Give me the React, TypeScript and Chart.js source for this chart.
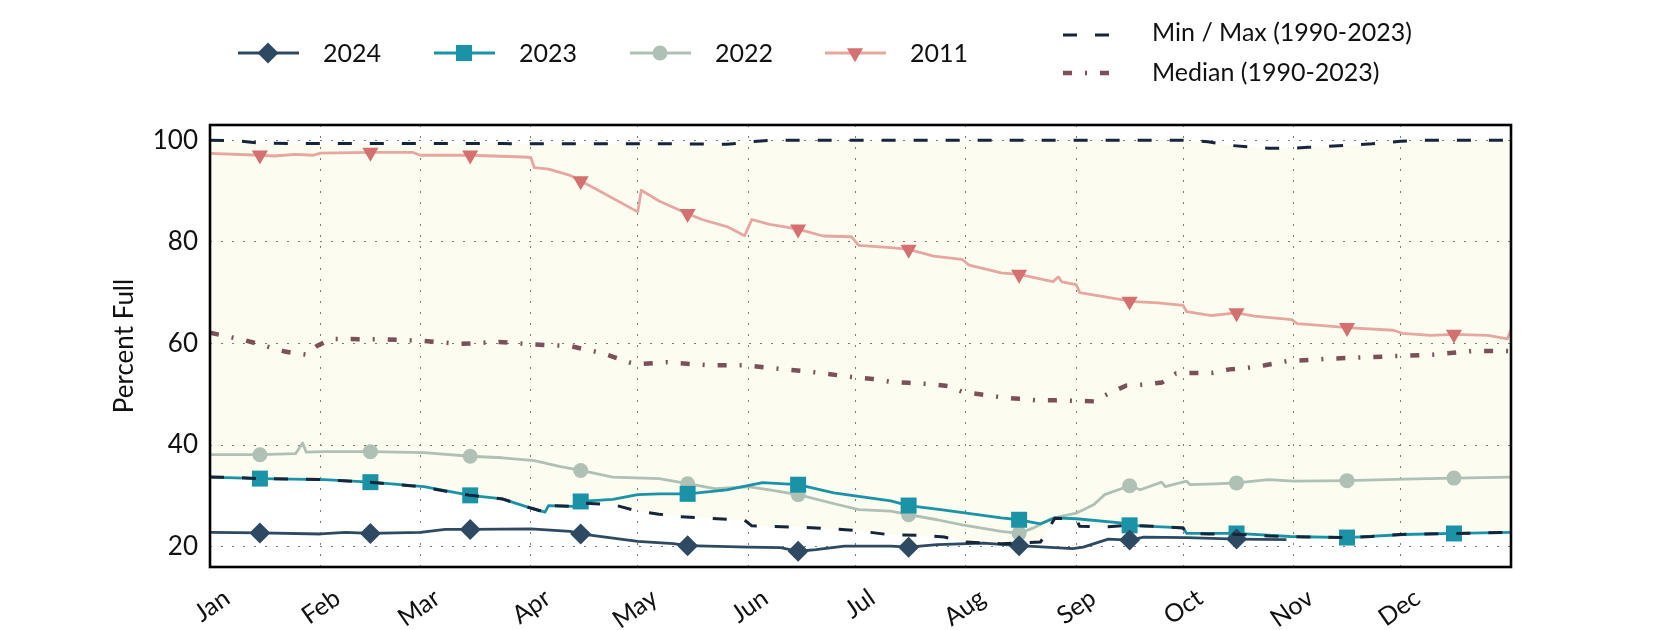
import React, { useEffect, useRef } from 'react';
import { Chart, registerables } from 'chart.js';
import { drawPoint } from 'chart.js/helpers';

Chart.register(...registerables);

// ---------- data ----------
const MONTH_LABELS = ['Jan', 'Feb', 'Mar', 'Apr', 'May', 'Jun', 'Jul', 'Aug', 'Sep', 'Oct', 'Nov', 'Dec'];
const MONTH_DAYS = [0, 31, 59, 90, 120, 151, 181, 212, 243, 273, 304, 334];
const Y_TICKS = [20, 40, 60, 80, 100];
const MARKER_DAYS = [14, 45, 73, 104, 134, 165, 196, 227, 258, 288, 319, 349];

const DAYS_2024 = [0, 14, 31, 38, 45, 59, 66, 73, 90, 101, 104, 112, 120, 130, 134, 151, 160, 165, 170, 178, 191, 196, 204, 217, 227, 242, 245, 252, 258, 262, 274, 288, 302];
const PCT_2024 = [22.8, 22.7, 22.5, 22.8, 22.6, 22.8, 23.4, 23.4, 23.5, 23.0, 22.5, 21.8, 21.05, 20.6, 20.2, 19.9, 19.8, 19.1, 19.4, 20.1, 20.1, 19.9, 20.4, 20.7, 20.2, 19.6, 19.9, 21.5, 21.3, 21.9, 21.8, 21.5, 21.4];

const DAYS_2023 = [0, 14, 32, 45, 60, 73, 82, 90, 94, 95, 102, 104, 113, 120, 126, 134, 145, 155, 165, 175, 191, 196, 205, 222, 227, 233, 237, 243, 257, 258, 273, 274, 288, 303, 319, 335, 349, 365];
const PCT_2023 = [33.7, 33.4, 33.2, 32.7, 31.8, 30.1, 29.4, 27.6, 26.8, 28.1, 27.95, 28.9, 29.3, 30.25, 30.4, 30.4, 31.2, 32.6, 32.2, 30.6, 29.0, 28.1, 27.3, 25.65, 25.3, 24.5, 25.65, 25.5, 24.6, 24.2, 23.7, 22.6, 22.6, 22.0, 21.8, 22.4, 22.6, 22.8];

const DAYS_2022 = [0, 14, 24, 26, 27, 32, 45, 60, 73, 82, 91, 98, 104, 113, 126, 134, 142, 151, 157, 165, 176, 182, 191, 196, 204, 211, 222, 227, 231, 236, 243, 248, 251, 258, 261, 267, 268, 274, 275, 282, 288, 297, 304, 319, 335, 349, 365];
const PCT_2022 = [38.1, 38.1, 38.3, 40.4, 38.6, 38.7, 38.7, 38.5, 37.8, 37.5, 36.95, 35.8, 35.0, 33.7, 33.4, 32.4, 31.4, 31.8, 31.2, 30.25, 28.3, 27.3, 27.0, 26.3, 25.3, 24.3, 23.0, 22.6, 23.7, 25.5, 26.6, 28.3, 30.25, 32.0, 31.2, 32.7, 31.8, 32.9, 32.2, 32.35, 32.55, 33.2, 32.9, 33.0, 33.3, 33.5, 33.7];

const DAYS_2011 = [0, 14, 18, 24, 29, 31, 45, 57, 59, 73, 88, 90, 91, 95, 101, 104, 108, 120, 121, 126, 134, 138, 145, 150, 152, 157, 165, 172, 180, 182, 191, 196, 203, 211, 213, 222, 227, 236.5, 238, 239, 243, 244, 257, 258, 266, 273, 274, 281, 288, 293, 303.5, 305, 314, 319, 332, 334.5, 342.5, 349, 358.5, 364, 365];
const PCT_2011 = [97.4, 97.05, 96.9, 97.2, 97.05, 97.45, 97.6, 97.6, 97.05, 97.05, 96.7, 96.6, 94.6, 94.3, 93.1, 92.0, 90.5, 85.9, 90.15, 88.05, 85.55, 84.4, 83.0, 81.2, 84.4, 83.45, 82.5, 81.15, 81.0, 79.3, 78.85, 78.5, 77.2, 76.55, 75.4, 73.9, 73.6, 72.15, 73.1, 72.1, 71.6, 70.0, 68.5, 68.3, 68.0, 67.5, 66.25, 65.5, 66.0, 65.4, 64.7, 63.9, 63.4, 63.1, 62.6, 62.0, 61.6, 61.8, 61.6, 60.9, 62.8];

const MINMAX_DAYS = [0, 8, 14, 31, 45, 59, 73, 82, 90, 94, 95, 102, 104, 113, 120, 126, 132, 140, 145, 150, 152, 157, 165, 170, 181, 190, 200, 206, 212, 222, 233, 235, 237, 243, 244, 252, 257, 265, 273, 274, 280, 286, 297, 303, 308, 319, 326, 334, 340, 349, 365];
const MIN_PCT = [33.7, 33.6, 33.4, 33.2, 32.7, 31.8, 30.1, 29.4, 27.6, 26.8, 28.1, 27.95, 28.6, 28.3, 27.0, 26.4, 25.9, 25.6, 25.4, 25.2, 24.1, 24.0, 23.8, 23.7, 23.2, 22.4, 22.2, 21.9, 20.9, 20.6, 20.9, 23.2, 25.6, 25.4, 24.0, 23.9, 24.2, 24.0, 23.7, 22.6, 22.5, 22.5, 22.1, 22.0, 21.9, 21.8, 22.0, 22.4, 22.5, 22.6, 22.8];
const MAX_PCT = [100, 99.9, 99.4, 99.35, 99.35, 99.35, 99.35, 99.35, 99.3, 99.3, 99.3, 99.3, 99.3, 99.3, 99.3, 99.3, 99.3, 99.25, 99.2, 99.5, 99.7, 100, 100, 100, 100, 100, 100, 100, 100, 100, 100, 100, 100, 100, 100, 100, 100, 100, 100, 100, 99.7, 99.0, 98.4, 98.4, 98.6, 99.0, 99.3, 99.8, 100, 100, 100];

const MEDIAN_DAYS = [0, 10, 21, 27, 30, 34, 49, 60, 70, 81, 91, 101, 110, 118, 120, 128, 140, 150, 160, 170, 180, 186, 191, 196, 202, 207, 211, 217, 222, 227, 232, 237, 243, 248, 252, 257, 262, 267, 271, 276, 281, 286, 291, 296, 302, 314, 325, 343, 354, 365];
const MEDIAN_PCT = [62.1, 60.6, 58.4, 57.8, 59.5, 60.9, 60.8, 60.5, 59.9, 60.3, 59.8, 59.5, 58.1, 56.2, 55.9, 56.3, 55.7, 55.7, 55.0, 54.3, 53.4, 53.0, 52.45, 52.25, 52.0, 51.6, 50.5, 49.9, 49.4, 49.1, 48.8, 48.8, 48.7, 48.6, 50.1, 51.7, 51.9, 52.3, 54.1, 54.2, 54.2, 54.9, 55.2, 55.7, 56.5, 57.0, 57.3, 57.8, 58.5, 58.5];

// ---------- styles ----------
const FONT = 'Lato';
const TEXT_COLOR = '#111111';
const FILL_COLOR = '#fcfcf1';
const GRID_COLOR = '#7a7a7a';

const YEAR_STYLES = [
  { label: '2024', days: DAYS_2024, values: PCT_2024, line: '#2e4a62', marker: '#2e4a62', style: 'rectRot', radius: 10.5, rotation: 0 },
  { label: '2023', days: DAYS_2023, values: PCT_2023, line: '#1b93a6', marker: '#1b93a6', style: 'rect', radius: 11.3, rotation: 0 },
  { label: '2022', days: DAYS_2022, values: PCT_2022, line: '#afc0b4', marker: '#afc0b4', style: 'circle', radius: 7.5, rotation: 0 },
  { label: '2011', days: DAYS_2011, values: PCT_2011, line: '#e6a7a1', marker: '#d4706f', style: 'triangle', radius: 9.3, rotation: 180 },
];

const MINMAX_COLOR = '#15253a';
const MINMAX_DASH = [14, 18];
const MEDIAN_COLOR = '#7b5059';
const MEDIAN_DASH = [9, 13, 2, 13];

const pts = (days: number[], vals: number[]) => days.map((d, i) => ({ x: d, y: vals[i] }));

const markerRadius = (r: number) => (ctx: any) =>
  ctx.raw && MARKER_DAYS.includes(ctx.raw.x) ? r : 0;

// ---------- plugins ----------
const framePlugin = {
  id: 'frame',
  afterDraw(chart: any) {
    const { ctx, chartArea: a } = chart;
    ctx.save();
    ctx.strokeStyle = '#000';
    ctx.lineWidth = 2.6;
    ctx.strokeRect(a.left, a.top, a.right - a.left, a.bottom - a.top);
    ctx.restore();
  },
};

const YEAR_LEGEND_X = [238, 434, 630, 825];

const legendPlugin = {
  id: 'customLegend',
  afterDraw(chart: any) {
    const ctx = chart.ctx;
    ctx.save();
    ctx.font = `25px ${FONT}`;
    ctx.textBaseline = 'alphabetic';
    ctx.textAlign = 'left';
    const y = 53;
    YEAR_STYLES.forEach((s, i) => {
      const x0 = YEAR_LEGEND_X[i];
      ctx.setLineDash([]);
      ctx.strokeStyle = s.line;
      ctx.lineWidth = 2.8;
      ctx.beginPath();
      ctx.moveTo(x0, y);
      ctx.lineTo(x0 + 61, y);
      ctx.stroke();
      ctx.fillStyle = s.marker;
      drawPoint(ctx, { pointStyle: s.style as any, rotation: s.rotation, radius: s.radius, borderWidth: 0 } as any, x0 + 30, y);
      ctx.fillStyle = TEXT_COLOR;
      ctx.fillText(s.label, x0 + 85, 62);
    });
    // min/max
    ctx.strokeStyle = MINMAX_COLOR;
    ctx.lineWidth = 3;
    ctx.lineCap = 'butt';
    ctx.setLineDash(MINMAX_DASH);
    ctx.beginPath();
    ctx.moveTo(1063, 35);
    ctx.lineTo(1110, 35);
    ctx.stroke();
    ctx.strokeStyle = MEDIAN_COLOR;
    ctx.lineWidth = 4.5;
    ctx.setLineDash(MEDIAN_DASH);
    ctx.beginPath();
    ctx.moveTo(1063, 73);
    ctx.lineTo(1110, 73);
    ctx.stroke();
    ctx.setLineDash([]);
    ctx.fillStyle = TEXT_COLOR;
    ctx.fillText('Min / Max (1990-2023)', 1152, 41);
    ctx.fillText('Median (1990-2023)', 1152, 81);
    ctx.restore();
  },
};

export default function App() {
  const ref = useRef<HTMLCanvasElement>(null);

  useEffect(() => {
    if (!ref.current) return;

    const datasets: any[] = [
      {
        label: 'Max (1990-2023)',
        data: pts(MINMAX_DAYS, MAX_PCT),
        borderColor: MINMAX_COLOR,
        borderWidth: 3,
        borderDash: MINMAX_DASH,
        borderCapStyle: 'butt',
        pointRadius: 0,
        fill: '+1',
        backgroundColor: FILL_COLOR,
        tension: 0,
      },
      {
        label: 'Min (1990-2023)',
        data: pts(MINMAX_DAYS, MIN_PCT),
        borderColor: MINMAX_COLOR,
        borderWidth: 3,
        borderDash: MINMAX_DASH,
        borderCapStyle: 'butt',
        pointRadius: 0,
        fill: false,
        tension: 0,
      },
      ...YEAR_STYLES.map((s) => ({
        label: s.label,
        data: pts(s.days, s.values),
        borderColor: s.line,
        borderWidth: 2.8,
        borderJoinStyle: 'round',
        pointStyle: s.style,
        pointRotation: s.rotation,
        pointRadius: markerRadius(s.radius),
        pointHoverRadius: markerRadius(s.radius),
        pointBackgroundColor: s.marker,
        pointBorderWidth: 0,
        fill: false,
        tension: 0,
      })),
      {
        label: 'Median (1990-2023)',
        data: pts(MEDIAN_DAYS, MEDIAN_PCT),
        borderColor: MEDIAN_COLOR,
        borderWidth: 4.5,
        borderDash: MEDIAN_DASH,
        borderCapStyle: 'butt',
        pointRadius: 0,
        fill: false,
        tension: 0,
      },
    ];

    const chart = new Chart(ref.current, {
      type: 'line',
      data: { datasets },
      options: {
        responsive: false,
        animation: false,
        devicePixelRatio: 1,
        events: [],
        layout: { padding: { top: 125, right: 169, bottom: 0, left: 0 } },
        plugins: {
          legend: { display: false },
          tooltip: { enabled: false },
          filler: { drawTime: 'beforeDraw' },
        },
        scales: {
          x: {
            type: 'linear',
            min: 0,
            max: 365,
            afterBuildTicks: (scale: any) => {
              scale.ticks = MONTH_DAYS.map((v) => ({ value: v }));
            },
            afterFit: (scale: any) => {
              scale.height = 63;
            },
            ticks: {
              autoSkip: false,
              maxRotation: 35,
              minRotation: 35,
              padding: 16,
              labelOffset: 17,
              color: TEXT_COLOR,
              font: { family: FONT, size: 25 },
              callback: (_v: any, i: number) => MONTH_LABELS[i],
            },
            grid: { color: GRID_COLOR, lineWidth: 1, drawTicks: false },
            border: { display: false, dash: [2, 9] },
          },
          y: {
            type: 'linear',
            min: 16,
            max: 103,
            afterBuildTicks: (scale: any) => {
              scale.ticks = Y_TICKS.map((v) => ({ value: v }));
            },
            afterFit: (scale: any) => {
              scale.width = 210;
            },
            ticks: {
              padding: 12,
              color: TEXT_COLOR,
              font: { family: FONT, size: 26 },
            },
            grid: { color: GRID_COLOR, lineWidth: 1, drawTicks: false },
            border: { display: false, dash: [2, 9] },
            title: {
              display: true,
              text: 'Percent Full',
              color: TEXT_COLOR,
              font: { family: FONT, size: 26 },
              padding: { top: 109, bottom: 0 },
            },
          },
        },
      } as any,
      plugins: [framePlugin, legendPlugin],
    });

    return () => chart.destroy();
  }, []);

  return (
    <div style={{ position: 'absolute', left: 0, top: 0, width: 1680, height: 630, background: '#ffffff' }}>
      <canvas ref={ref} width={1680} height={630} style={{ display: 'block', width: 1680, height: 630 }} />
    </div>
  );
}
